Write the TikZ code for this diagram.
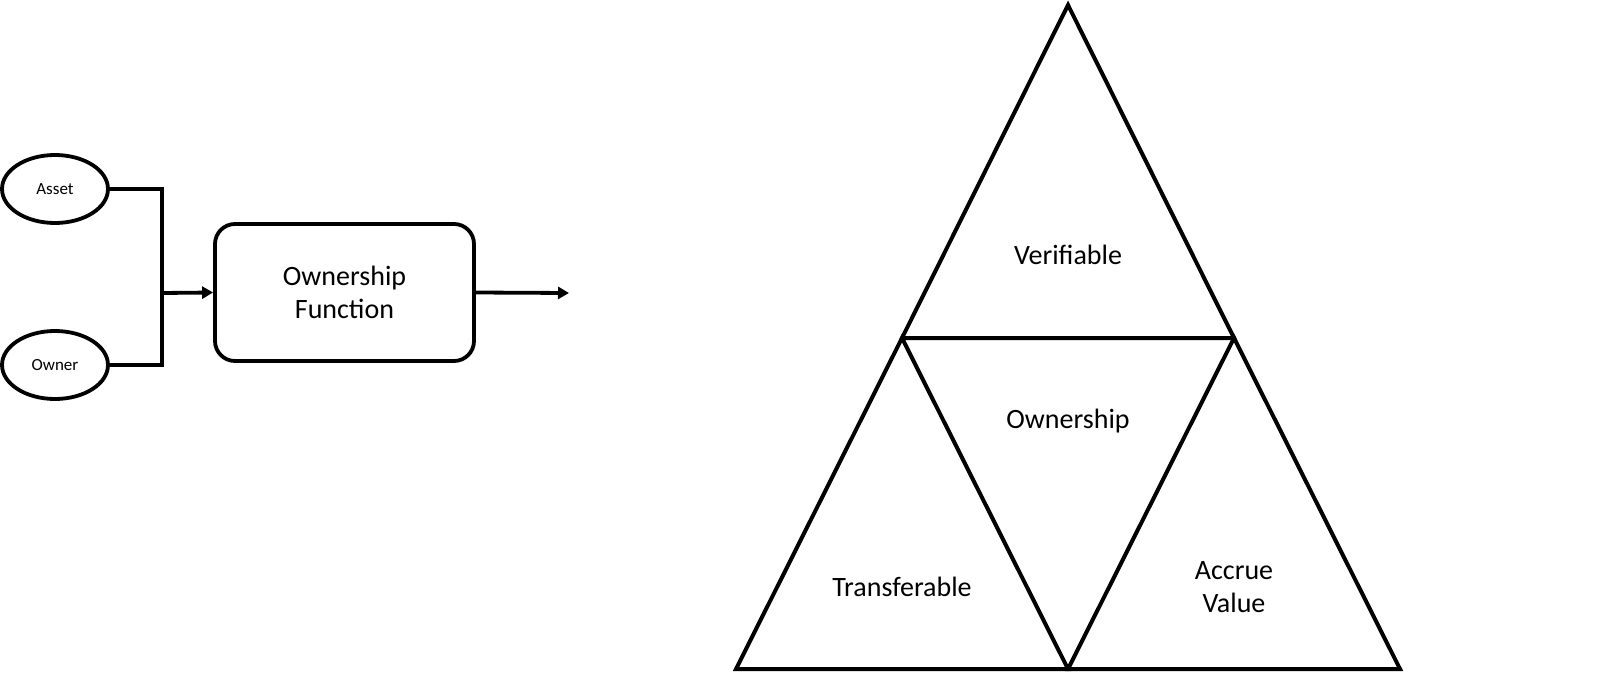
\documentclass[tikz,border=0pt]{standalone}
\usepackage{fontspec}
\setmainfont{Carlito}
\usetikzlibrary{arrows.meta,shapes.geometric}
\begin{document}
\begin{tikzpicture}[x=1pt,y=-1pt,
  line width=3.8pt,
  inp/.style={draw,ellipse,minimum width=106pt,minimum height=68pt,inner sep=0pt,font=\fontsize{17}{20}\selectfont},
  fbox/.style={draw,rounded corners=20pt,minimum width=259pt,minimum height=137pt,align=center,font=\fontsize{28}{33}\selectfont},
  lbl/.style={align=center,font=\fontsize{28}{33}\selectfont},
  arr/.style={-{Triangle[length=11pt,width=12pt]}},
  tri/.style={line width=4pt,line join=miter}]
\useasboundingbox (0,0) rectangle (1600,690);
% left diagram
\node[inp] (asset) at (55,189) {Asset};
\node[inp] (owner) at (55,365) {Owner};
\node[fbox] (func) at (344.5,292.5) {Ownership\\Function};
\coordinate (j) at (162,293);
\coordinate (out) at (569,293);
\draw[line join=miter] (asset.east) -| (j) |- (owner.east);
\draw[arr] (j) -- (func.west);
\draw[arr] (func.east) -- (out);
% triangle
\coordinate (A) at (1068,5);
\coordinate (L) at (736,669);
\coordinate (R) at (1400,669);
\coordinate (ML) at (902,338);
\coordinate (MR) at (1234,338);
\coordinate (B) at (1068,669);
\draw[tri] (A) -- (ML) -- (MR) -- cycle;
\draw[tri] (ML) -- (L) -- (B) -- cycle;
\draw[tri] (MR) -- (B) -- (R) -- cycle;
\node[lbl] (ver) at (1068,255) {Verifiable};
\node[lbl] (own) at (1068,421) {Ownership};
\node[lbl] (tra) at (902,587) {Transferable};
\node[lbl] (acc) at (1234,587) {Accrue\\Value};
\end{tikzpicture}
\end{document}
